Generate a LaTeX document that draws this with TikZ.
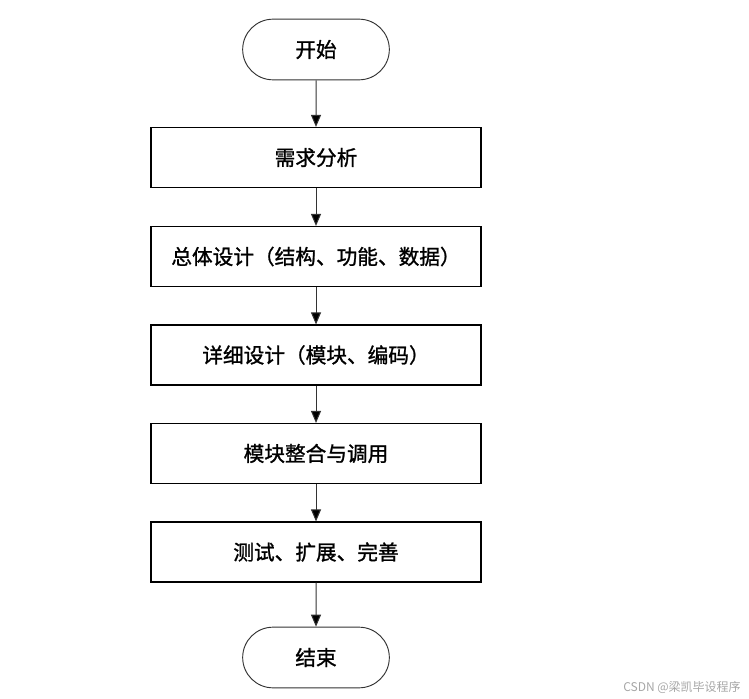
\documentclass[tikz,border=0pt]{standalone}
\usepackage{fontspec}
\newfontfamily\cjk[FakeBold=1.2]{Noto Sans CJK SC}
\newfontfamily\cjkwm{Noto Sans CJK SC}
\usetikzlibrary{shapes.misc,arrows.meta}
\begin{document}
\begin{tikzpicture}[x=0.75pt,y=-0.75pt,
  stepbox/.style={draw=black,line width=0.85pt,rectangle,minimum width=247.5pt,minimum height=45pt,inner sep=0pt,font=\cjk\fontsize{15.5pt}{17pt}\selectfont},
  termbox/.style={draw=black!80,line width=0.7pt,rounded rectangle,minimum width=110pt,minimum height=45.5pt,inner sep=0pt,font=\cjk\fontsize{15.5pt}{17pt}\selectfont},
  flow/.style={draw=black!80,line width=0.75pt,-{Triangle[length=9pt,width=7.5pt,fill=black]}}]
\useasboundingbox (0,0) rectangle (749,699);
\node[termbox] (start) at (316,49.5) {开始};
\node[stepbox] (s1) at (316,157.5) {需求分析};
\node[stepbox] (s2) at (316,256.5) {总体设计（结构、功能、数据）};
\node[stepbox] (s3) at (316,355) {详细设计（模块、编码）};
\node[stepbox] (s4) at (316,453.5) {模块整合与调用};
\node[stepbox] (s5) at (316,552) {测试、扩展、完善};
\node[termbox] (end) at (316,657.5) {结束};
\draw[flow] (start) -- (s1);
\draw[flow] (s1) -- (s2);
\draw[flow] (s2) -- (s3);
\draw[flow] (s3) -- (s4);
\draw[flow] (s4) -- (s5);
\draw[flow] (s5) -- (end);
\node[anchor=east,text=black!35,inner sep=0pt,font=\cjkwm\fontsize{9pt}{10pt}\selectfont] (wm) at (741,687) {CSDN @梁凯毕设程序};
\end{tikzpicture}
\end{document}
